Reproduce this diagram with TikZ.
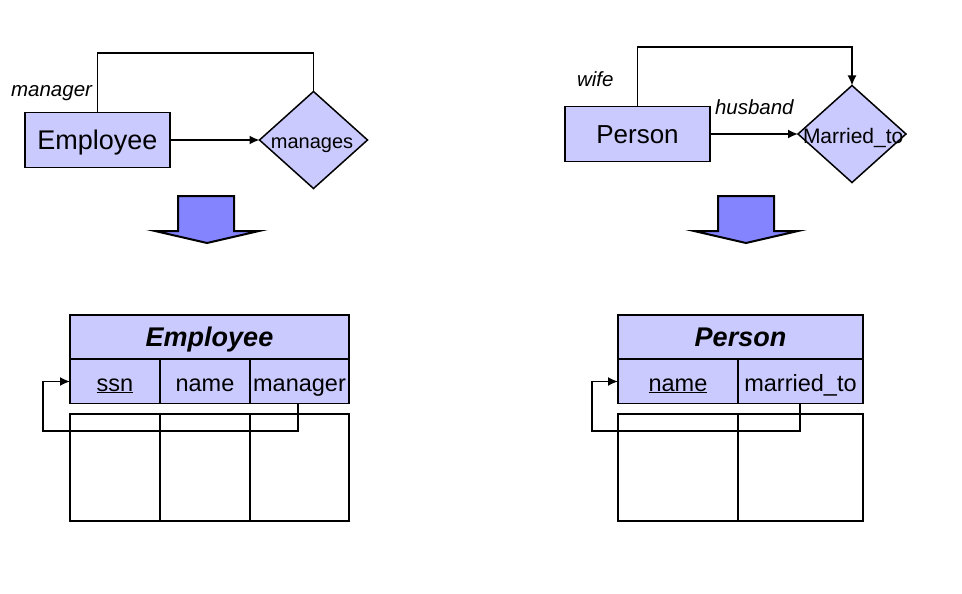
\documentclass[tikz,border=0pt]{standalone}
\usepackage{fontspec}
\setmainfont{Liberation Sans}
\usetikzlibrary{shapes.geometric,arrows.meta}
\definecolor{ent}{RGB}{202,202,255}
\definecolor{blk}{RGB}{132,132,255}
\begin{document}
\begin{tikzpicture}[x=1pt,y=-1pt,
  every node/.style={inner sep=0pt,outer sep=0pt},
  entbox/.style={draw,line width=1.5pt,fill=ent,minimum width=145pt,minimum height=55pt,text height=19.2pt,text depth=0pt,font=\fontsize{27}{32}\selectfont},
  relbox/.style={draw,line width=1.5pt,fill=ent,shape=diamond,minimum width=108pt,minimum height=97pt},
  rellabel/.style={font=\fontsize{20}{24}\selectfont},
  rolelabel/.style={font=\fontsize{20.5}{24}\selectfont\itshape},
  hdr/.style={draw,line width=1.5pt,fill=ent,minimum height=44pt,text height=19.4pt,text depth=0pt,font=\fontsize{27}{32}\selectfont\bfseries\itshape},
  attr/.style={draw,line width=1.5pt,fill=ent,minimum height=44pt,text height=19pt,text depth=0pt,font=\fontsize{23.5}{28}\selectfont},
  datacell/.style={draw,line width=1.5pt,fill=white,minimum height=107pt},
  conn/.style={line width=1.7pt},
  tip/.style={-{Latex[length=10pt,width=9pt]}},
  blockarrow/.style={draw=black,line width=2pt,fill=blk,line join=miter}
]
\useasboundingbox (0,0) rectangle (962,594);

% ---------- top left ER ----------
\node[entbox] (emp) at (97.5,140) {Employee};
\node[relbox] (manages) at (313.5,140) {};
\node[rellabel,anchor=base] (managesT) at (312,148) {manages};
\node[rolelabel,anchor=base east] (mgrlab) at (92,96) {manager};
\coordinate (etop) at (313.5,53);
\draw[conn,tip] (emp.east) -- (manages.west);
\draw[conn] (emp.north) |- (etop) -- (manages.north);

% ---------- top right ER ----------
\node[entbox,font=\fontsize{26}{30}\selectfont,text height=18.6pt] (per) at (637.5,134) {Person};
\node[relbox] (married) at (852,134) {};
\node[rellabel,anchor=base west,font=\fontsize{21}{25}\selectfont] (marriedT) at (803,143) {Married\_to};
\node[rolelabel,anchor=base west] (wifelab) at (577,87) {wife};
\node[rolelabel,anchor=base west] (husblab) at (715,114) {husband};
\coordinate (ptop) at (852,47);
\draw[conn,tip] (per.east) -- (married.west);
\draw[conn,tip] (per.north) |- (ptop) -- (married.north);

% ---------- block arrows ----------
\draw[blockarrow] (178,196) -- (234,196) -- (234,231) -- (259,231) -- (207,243) -- (155,231) -- (178,231) -- cycle;
\draw[blockarrow] (718,196) -- (774,196) -- (774,231) -- (798,231) -- (746,243) -- (694,231) -- (718,231) -- cycle;

% ---------- bottom left table ----------
\node[hdr,minimum width=279pt] (ehdr) at (209.5,337) {Employee};
\node[datacell,minimum width=90pt] (ed1) at (115,467.5) {};
\node[datacell,minimum width=90pt] (ed2) at (205,467.5) {};
\node[datacell,minimum width=99pt] (ed3) at (299.5,467.5) {};
\node[attr,minimum width=90pt] (ssn) at (115,381.5) {\underline{ssn}};
\node[attr,minimum width=90pt] (ename) at (205,381.5) {name};
\node[attr,minimum width=99pt] (emgr) at (299.5,381.5) {manager};
\coordinate (eturn) at (43,431);
\draw[conn,tip] (298,403.5) |- (eturn) |- (ssn.west);

% ---------- bottom right table ----------
\node[hdr,minimum width=245pt,text height=19pt] (phdr) at (740.5,337) {Person};
\node[datacell,minimum width=120pt] (pd1) at (678,467.5) {};
\node[datacell,minimum width=125pt] (pd2) at (800.5,467.5) {};
\node[attr,minimum width=120pt] (pname) at (678,381.5) {\underline{name}};
\node[attr,minimum width=125pt] (pmar) at (800.5,381.5) {married\_to};
\coordinate (pturn) at (592,431);
\draw[conn,tip] (800,403.5) |- (pturn) |- (pname.west);
\end{tikzpicture}
\end{document}
